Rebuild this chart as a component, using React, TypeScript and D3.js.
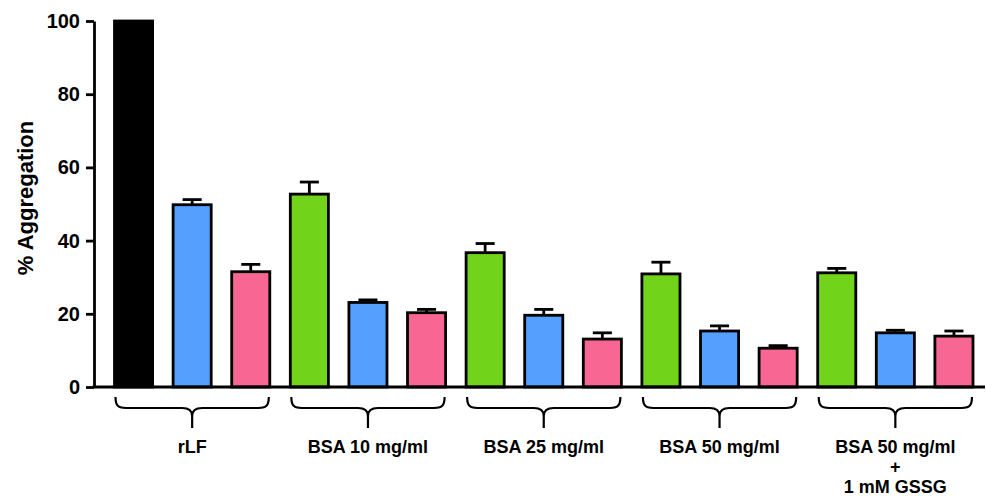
import React, { useEffect, useRef } from 'react';
import * as d3 from 'd3';

const groups = ['rLF', 'BSA 10 mg/ml', 'BSA 25 mg/ml', 'BSA 50 mg/ml', 'BSA 50 mg/ml\n+\n1 mM GSSG'];
const seriesNames = ['first', 'second', 'third'];
// per group: [first, second, third]
const means = [
  [100, 49.8, 31.5],
  [52.7, 23.1, 20.3],
  [36.7, 19.6, 13.1],
  [30.9, 15.3, 10.6],
  [31.2, 14.8, 13.9],
];
const errors = [
  [0, 1.4, 2.0],
  [3.3, 0.7, 0.9],
  [2.5, 1.6, 1.7],
  [3.2, 1.4, 0.7],
  [1.2, 0.7, 1.4],
];
const yTicks = [0, 20, 40, 60, 80, 100];

const GREEN = '#72d41a';
const BLUE = '#559ffe';
const PINK = '#f86693';
const fontFamily = '"Liberation Sans", Arial, sans-serif';

const App = () => {
  const chartRef = useRef<SVGSVGElement>(null);

  useEffect(() => {
    const svg = d3.select(chartRef.current);
    svg.selectAll('*').remove();

    const x0 = 94;
    const y0 = 387;
    const yTop = 21;

    const bars = means.flatMap((g, gi) =>
      g.map((v, si) => ({ gi, si, key: `${gi}-${si}`, v, e: errors[gi][si] }))
    );

    const xScale = d3
      .scaleBand<string>()
      .domain(bars.map((b) => b.key))
      .range([x0, x0 + 899.5])
      .paddingInner(0.35)
      .paddingOuter(0.35);

    const yScale = d3.scaleLinear().domain([0, 100]).range([y0, yTop]);

    const fill = (b: any) => {
      if (b.gi === 0 && b.si === 0) return '#000';
      return [GREEN, BLUE, PINK][b.si];
    };

    // error bars
    const eb = svg.append('g').attr('stroke', '#000').attr('stroke-width', 2.8);
    bars
      .filter((b) => b.e > 0)
      .forEach((b) => {
        const cx = xScale(b.key)! + xScale.bandwidth() / 2;
        eb.append('line')
          .attr('x1', cx)
          .attr('x2', cx)
          .attr('y1', yScale(b.v))
          .attr('y2', yScale(b.v + b.e));
        eb.append('line')
          .attr('x1', cx - xScale.bandwidth() / 4)
          .attr('x2', cx + xScale.bandwidth() / 4)
          .attr('y1', yScale(b.v + b.e))
          .attr('y2', yScale(b.v + b.e));
      });

    svg
      .append('g')
      .selectAll('rect')
      .data(bars)
      .enter()
      .append('rect')
      .attr('x', (d) => xScale(d.key)!)
      .attr('y', (d) => yScale(d.v))
      .attr('width', xScale.bandwidth())
      .attr('height', (d) => y0 - yScale(d.v))
      .attr('fill', fill)
      .attr('stroke', '#000')
      .attr('stroke-width', 2.8);

    // y axis
    const yAxis = svg
      .append('g')
      .attr('transform', `translate(${x0},0)`)
      .call(d3.axisLeft(yScale).tickValues(yTicks).tickSize(8).tickPadding(6).tickSizeOuter(0));
    yAxis.select('.domain').attr('stroke-width', 2.8);
    yAxis.selectAll('.tick line').attr('stroke-width', 2.8);
    yAxis
      .selectAll('.tick text')
      .attr('font-family', fontFamily)
      .attr('font-weight', 'bold')
      .attr('font-size', 20)
      .attr('fill', '#000');

    // x axis line
    svg
      .append('line')
      .attr('x1', x0 - 1.4)
      .attr('x2', 985)
      .attr('y1', y0)
      .attr('y2', y0)
      .attr('stroke', '#000')
      .attr('stroke-width', 2.8);

    // y label
    svg
      .append('text')
      .attr('transform', `translate(33,${(yTop + y0) / 2 - 6}) rotate(-90)`)
      .attr('text-anchor', 'middle')
      .attr('font-family', fontFamily)
      .attr('font-weight', 'bold')
      .attr('font-size', 22)
      .text('% Aggregation');

    // braces and group labels
    const braceG = svg.append('g');
    groups.forEach((label, gi) => {
      const left = xScale(`${gi}-0`)! + 1;
      const right = xScale(`${gi}-2`)! + xScale.bandwidth() - 1;
      const cx = (left + right) / 2;
      const top = 397;
      const mid = 408;
      const tip = 428;
      const r = 15;
      const p = d3.path();
      p.moveTo(left, top);
      p.bezierCurveTo(left, mid, left + 4, mid, left + r, mid);
      p.lineTo(cx - 10, mid);
      p.quadraticCurveTo(cx, mid, cx, mid + 8);
      p.lineTo(cx, tip);
      p.moveTo(right, top);
      p.bezierCurveTo(right, mid, right - 4, mid, right - r, mid);
      p.lineTo(cx + 10, mid);
      p.quadraticCurveTo(cx, mid, cx, mid + 8);
      braceG
        .append('path')
        .attr('d', p.toString())
        .attr('fill', 'none')
        .attr('stroke', '#000')
        .attr('stroke-width', 2.2);

      const lines = label.split('\n');
      const t = braceG
        .append('text')
        .attr('text-anchor', 'middle')
        .attr('font-family', fontFamily)
        .attr('font-weight', 'bold')
        .attr('font-size', 18);
      lines.forEach((ln, li) => {
        t.append('tspan')
          .attr('x', cx)
          .attr('y', 452.5 + li * 20)
          .text(ln);
      });
    });

    svg.attr('data-series', seriesNames.join(','));
  }, []);

  return (
    <svg
      ref={chartRef}
      width={987}
      height={496}
      style={{ position: 'absolute', left: 0, top: 0, background: '#fff' }}
    ></svg>
  );
};

export default App;
